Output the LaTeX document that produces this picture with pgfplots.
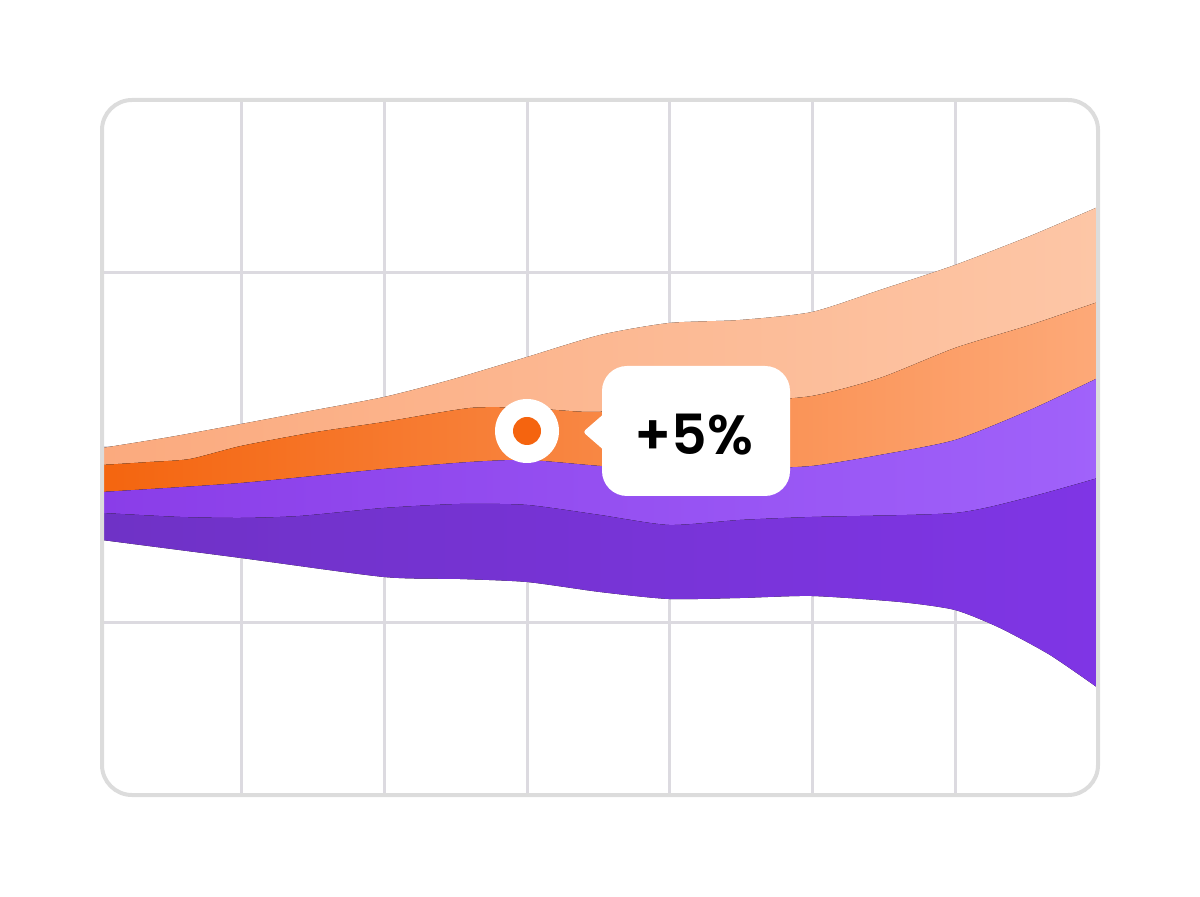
\documentclass[border=0pt]{standalone}
\usepackage{pgfplots}
\pgfplotsset{compat=1.18}
\usepgfplotslibrary{fillbetween}
\usepackage{fontspec}
\newfontfamily\pop{Poppins}[UprightFont=* SemiBold]
\definecolor{gridgray}{HTML}{DCDAE0}
\definecolor{framegray}{HTML}{DCDCDC}
\definecolor{aL}{HTML}{FBAA7E}
\definecolor{aR}{HTML}{FDC6A6}
\definecolor{bL}{HTML}{F4650F}
\definecolor{bR}{HTML}{FDA978}
\definecolor{cL}{HTML}{8A3DE8}
\definecolor{cR}{HTML}{A062FA}
\definecolor{dL}{HTML}{6F32C6}
\definecolor{dR}{HTML}{7F35E5}
\definecolor{dot}{HTML}{F5640F}
\begin{document}
\begin{tikzpicture}
\path (0,0) rectangle (24cm,17.92cm);
\begin{axis}[
  at={(2.04cm,2.02cm)}, anchor=south west,
  scale only axis, width=19.92cm, height=13.9cm,
  xmin=102, xmax=1098, ymin=101, ymax=796,
  xtick={241,384,527,669,812,955}, ytick={274,448,623},
  xticklabels={}, yticklabels={},
  grid=major, grid style={line width=0.06cm, color=gridgray},
  tick style={draw=none}, axis line style={draw=none},
  clip=false,
]
% boundaries (y = 896 - pixel row)
\addplot[name path=b0, draw=none, smooth, tension=0.4] coordinates {
 (102,448) (170,459) (241,472) (310,485) (384,499) (450,516) (527,539) (600,561) (669,573) (740,576) (812,584) (880,606) (955,631) (1030,660) (1098,689)};
\addplot[name path=b1, draw=none, smooth, tension=0.4] coordinates {
 (102,431) (150,434) (190,437) (241,450) (310,463) (384,474) (470,488) (527,488) (590,484) (669,488) (740,494) (812,500) (880,518) (955,548) (1030,571) (1098,594)};
\addplot[name path=b2, draw=none, smooth, tension=0.4] coordinates {
 (102,404) (241,413) (384,427) (470,434) (527,436) (600,430) (669,426) (740,427) (812,430) (880,441) (955,456) (1030,486) (1098,518)};
\addplot[name path=b3, draw=none, smooth, tension=0.4] coordinates {
 (102,383) (180,379) (241,378) (300,380) (384,388) (460,392) (527,391) (600,381) (669,371) (740,376) (812,379) (955,383) (1030,399) (1098,418)};
\addplot[name path=b4, draw=none, smooth, tension=0.4] coordinates {
 (102,356) (241,338) (384,319) (460,317) (527,314) (600,304) (669,297) (740,298) (812,300) (900,294) (955,286) (1000,268) (1050,241) (1098,208)};
\addplot[left color=aL, right color=aR, draw=none] fill between[of=b0 and b1];
\addplot[left color=bL, right color=bR, draw=none] fill between[of=b1 and b2];
\addplot[left color=cL, right color=cR, draw=none] fill between[of=b2 and b3];
\addplot[left color=dL, right color=dR, draw=none] fill between[of=b3 and b4];
% marker
\fill[white] (axis cs:527,465) circle[radius=0.64cm];
\fill[dot] (axis cs:527,465) circle[radius=0.28cm];
% callout
\fill[white, rounded corners=0.5cm] (axis cs:602,530) rectangle (axis cs:790,400);
\fill[white, rounded corners=0.06cm] (axis cs:606,484) -- (axis cs:583,464) -- (axis cs:606,444) -- cycle;
\node[text=black] at (axis cs:694,461) {\pop\fontsize{31.5}{32}\selectfont +5\%};
\end{axis}
\draw[framegray, line width=0.08cm, rounded corners=0.6cm] (2.04cm,2.02cm) rectangle (21.96cm,15.92cm);
\end{tikzpicture}
\end{document}
